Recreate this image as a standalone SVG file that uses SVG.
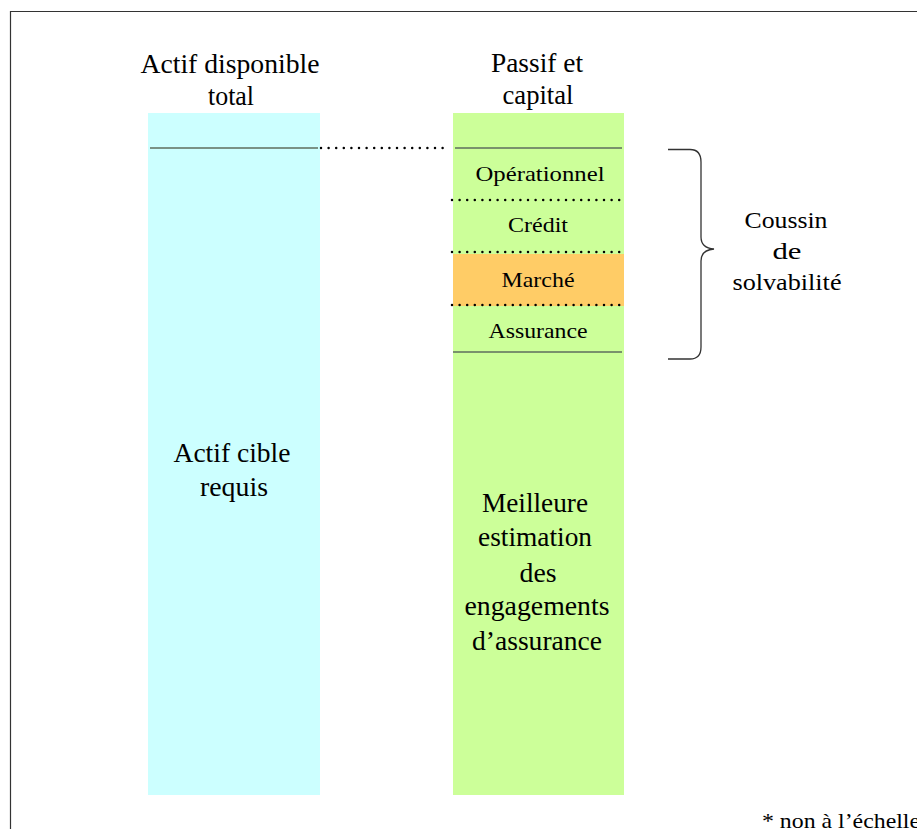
<svg xmlns="http://www.w3.org/2000/svg" width="917" height="829" viewBox="0 0 917 829">
  <style>
    text { font-family: "Liberation Serif", "Times New Roman", serif; fill: #000; text-anchor: middle; }
    .title { font-size: 28px; }
    .seg { font-size: 21px; }
    .big { font-size: 28px; }
    .side { font-size: 24px; }
    .note { font-size: 21px; text-anchor: start; }
    .rule { stroke: #5e6e5e; stroke-width: 1.5; }
    .dots { stroke: #000; stroke-width: 2.5; stroke-linecap: round; stroke-dasharray: 0 7.6; fill: none; }
  </style>
  <rect x="0" y="0" width="917" height="829" fill="#fff"/>
  <!-- frame -->
  <path d="M10.5 840 V11.5 H930" fill="none" stroke="#333" stroke-width="1.2"/>

  <g id="actif">
    <rect x="148" y="113" width="172" height="682" fill="#ccffff"/>
    <line class="rule" x1="150" y1="148" x2="318" y2="148"/>
    <text class="title" x="230" y="73" textLength="179" lengthAdjust="spacingAndGlyphs">Actif disponible</text>
    <text class="title" x="231" y="105" textLength="46" lengthAdjust="spacingAndGlyphs">total</text>
    <text class="big" x="232" y="462" textLength="117" lengthAdjust="spacingAndGlyphs">Actif cible</text>
    <text class="big" x="234" y="496" textLength="68" lengthAdjust="spacingAndGlyphs">requis</text>
  </g>

  <g id="passif">
    <rect x="453" y="113" width="171" height="682" fill="#ccff99"/>
    <rect x="453" y="254" width="171" height="52" fill="#ffcc66"/>
    <line class="rule" x1="455" y1="148" x2="622" y2="148"/>
    <line class="rule" x1="453" y1="352" x2="622" y2="352"/>
    <text class="title" x="537" y="72" textLength="92" lengthAdjust="spacingAndGlyphs">Passif et</text>
    <text class="title" x="538" y="104" textLength="71" lengthAdjust="spacingAndGlyphs">capital</text>
    <text class="seg" x="540" y="181" textLength="129" lengthAdjust="spacingAndGlyphs">Opérationnel</text>
    <text class="seg" x="538" y="232" textLength="60" lengthAdjust="spacingAndGlyphs">Crédit</text>
    <text class="seg" x="538" y="287" textLength="73" lengthAdjust="spacingAndGlyphs">Marché</text>
    <text class="seg" x="538" y="338" textLength="99" lengthAdjust="spacingAndGlyphs">Assurance</text>
    <text class="big" x="535" y="512" textLength="106" lengthAdjust="spacingAndGlyphs">Meilleure</text>
    <text class="big" x="535" y="546" textLength="114" lengthAdjust="spacingAndGlyphs">estimation</text>
    <text class="big" x="538" y="582" textLength="37" lengthAdjust="spacingAndGlyphs">des</text>
    <text class="big" x="537" y="615" textLength="145" lengthAdjust="spacingAndGlyphs">engagements</text>
    <text class="big" x="537" y="650" textLength="130" lengthAdjust="spacingAndGlyphs">d’assurance</text>
  </g>

  <g id="connectors">
    <line class="dots" x1="321" y1="148" x2="447" y2="148"/>
    <line class="dots" x1="452" y1="200" x2="624" y2="200"/>
    <line class="dots" x1="452" y1="252" x2="624" y2="252"/>
    <line class="dots" x1="452" y1="305" x2="624" y2="305"/>
  </g>

  <g id="coussin">
    <path d="M668 149.5 H690 Q701 149.5 701 162 V237 Q701 248 714 249 Q701 250 701 261 V347 Q701 359 690 359 H668" fill="none" stroke="#333" stroke-width="1.3"/>
    <text class="side" x="786" y="228" textLength="83" lengthAdjust="spacingAndGlyphs">Coussin</text>
    <text class="side" x="787" y="259" textLength="29" lengthAdjust="spacingAndGlyphs">de</text>
    <text class="side" x="787" y="290" textLength="109" lengthAdjust="spacingAndGlyphs">solvabilité</text>
  </g>

  <text class="note" x="762" y="828" textLength="158" lengthAdjust="spacingAndGlyphs">* non à l’échelle</text>
</svg>
